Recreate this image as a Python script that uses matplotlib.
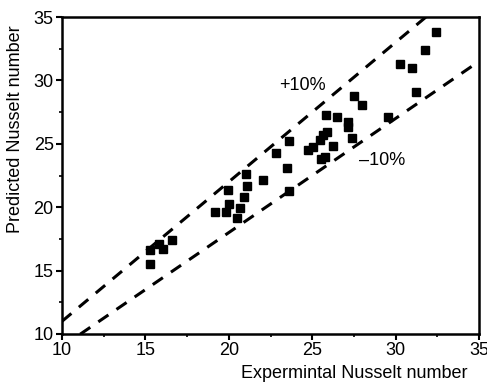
import numpy as np
import matplotlib
matplotlib.use('Agg')
import matplotlib.pyplot as plt
from matplotlib.ticker import MultipleLocator

plt.rcParams['font.family'] = ['Liberation Sans', 'DejaVu Sans']

expNu = [15.28, 15.28, 15.84, 16.08, 16.6, 19.17, 19.83, 19.97, 20.03, 20.67,
         20.49, 20.93, 21.07, 21.03, 22.03, 22.83, 23.59, 23.51, 23.61, 24.75,
         25.07, 25.47, 25.67, 25.87, 25.51, 25.77, 25.83, 26.23, 26.47, 27.17,
         27.17, 27.37, 27.53, 27.97, 29.56, 30.26, 30.96, 31.22, 31.76, 32.4]
predNu = [16.6, 15.55, 17.12, 16.73, 17.39, 19.62, 19.62, 21.38, 20.28, 19.96,
          19.17, 20.8, 21.65, 22.64, 22.12, 24.27, 25.19, 23.12, 21.28, 24.54,
          24.75, 25.27, 25.67, 25.93, 23.83, 23.96, 27.24, 24.8, 27.11, 26.72,
          26.32, 25.48, 28.77, 28.03, 27.11, 31.32, 31.0, 29.08, 32.37, 33.82]

bandPlus = 1.10
bandMinus = 0.90

fig = plt.figure(figsize=(4.87, 3.85), dpi=100)
ax = fig.add_axes([0.1273, 0.1325, 0.8563, 0.8233])

xx = np.array([10, 35])
ax.plot(xx, bandPlus * xx, 'k--', lw=2.2, dashes=(4, 3.2))
ax.plot(xx, bandMinus * xx, 'k--', lw=2.2, dashes=(4, 3.2))
ax.plot(expNu, predNu, 's', color='black', markersize=5.4)

ax.text(24.4, 29.6, '+10%', fontsize=13, ha='center', va='center')
ax.text(29.2, 23.7, '\u201310%', fontsize=13, ha='center', va='center')

ax.set_xlim(10, 35)
ax.set_ylim(10, 35)
ax.xaxis.set_major_locator(MultipleLocator(5))
ax.yaxis.set_major_locator(MultipleLocator(5))
ax.xaxis.set_minor_locator(MultipleLocator(2.5))
ax.yaxis.set_minor_locator(MultipleLocator(2.5))
ax.tick_params(which='major', direction='out', length=4, width=1.5, labelsize=13, pad=2)
ax.tick_params(which='minor', direction='out', length=2.5, width=1.2)
for s in ax.spines.values():
    s.set_linewidth(1.8)

ax.set_xlabel('Expermintal Nusselt number', fontsize=13)
ax.set_ylabel('Predicted Nusselt number', fontsize=13)
ax.xaxis.set_label_coords(0.70, -0.098)
ax.yaxis.set_label_coords(-0.091, 0.647)

fig.savefig('out.png', dpi=100)
